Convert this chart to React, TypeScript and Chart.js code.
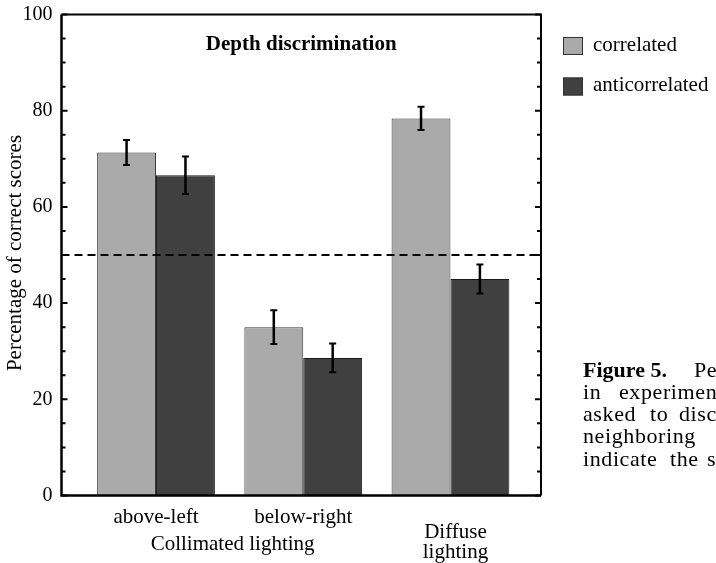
import React, { useEffect, useRef } from "react";
import { Chart, registerables } from "chart.js";

Chart.register(...registerables);

// ---- data ----
const categoryPositions = [0, 1, 2];
const tickLabels = ["above-left", "below-right"];
const groupLabels = [
  { lines: ["Collimated lighting"], from: 0, to: 1 },
  { lines: ["Diffuse", "lighting"], from: 2, to: 2 },
];
const seriesNames = ["correlated", "anticorrelated"];
const correlated = [71.3, 35.0, 78.4];
const correlatedErr = [2.6, 3.5, 2.4];
const anticorrelated = [66.6, 28.6, 45.0];
const anticorrelatedErr = [3.9, 3.0, 3.0];
const yTickValues = [0, 20, 40, 60, 80, 100];
const yMinorStep = 5;
const chanceLevel = 50;
const chartTitle = "Depth discrimination";
const yAxisTitle = "Percentage of correct scores";
const captionBold = "Figure 5.";

const FONT = "'Liberation Serif', 'Times New Roman', Times, serif";

const decorPlugin = {
  id: "decor",
  afterDatasetsDraw(chart: any) {
    const { ctx, chartArea: a, scales } = chart;
    const y = scales.y;
    ctx.save();
    // chance line
    ctx.strokeStyle = "#000";
    ctx.lineWidth = 2;
    ctx.setLineDash([8, 5]);
    const yc = y.getPixelForValue(chanceLevel);
    ctx.beginPath();
    ctx.moveTo(a.left, yc);
    ctx.lineTo(a.right, yc);
    ctx.stroke();
    ctx.setLineDash([]);
    // error bars
    chart.data.datasets.forEach((ds: any, di: number) => {
      const meta = chart.getDatasetMeta(di);
      meta.data.forEach((bar: any, i: number) => {
        const v = ds.data[i].y;
        const e = ds.errors[i];
        const top = y.getPixelForValue(v + e);
        const bot = y.getPixelForValue(v - e);
        ctx.lineWidth = 2.5;
        ctx.strokeStyle = "#000";
        ctx.beginPath();
        ctx.moveTo(bar.x, top);
        ctx.lineTo(bar.x, bot);
        ctx.stroke();
        ctx.lineWidth = 2;
        ctx.beginPath();
        ctx.moveTo(bar.x - 3.5, top);
        ctx.lineTo(bar.x + 3.5, top);
        ctx.moveTo(bar.x - 3.5, bot);
        ctx.lineTo(bar.x + 3.5, bot);
        ctx.stroke();
      });
    });
    ctx.restore();
  },
  afterDraw(chart: any) {
    const { ctx, chartArea: a, scales } = chart;
    const x = scales.x;
    const y = scales.y;
    ctx.save();
    // frame
    ctx.strokeStyle = "#000";
    ctx.lineWidth = 2;
    ctx.beginPath();
    ctx.moveTo(a.left, a.top);
    ctx.lineTo(a.right, a.top);
    ctx.lineTo(a.right, a.bottom);
    ctx.stroke();
    ctx.lineWidth = 2.5;
    ctx.beginPath();
    ctx.moveTo(a.left, a.top);
    ctx.lineTo(a.left, a.bottom);
    ctx.lineTo(a.right, a.bottom);
    ctx.stroke();
    // inward ticks left & right
    ctx.lineWidth = 2;
    for (let v = y.min; v <= y.max; v += yMinorStep) {
      const py = y.getPixelForValue(v);
      const major = yTickValues.includes(v);
      const len = major ? 6 : 4;
      ctx.beginPath();
      ctx.moveTo(a.left, py);
      ctx.lineTo(a.left + len, py);
      ctx.moveTo(a.right, py);
      ctx.lineTo(a.right - len, py);
      ctx.stroke();
    }
    ctx.fillStyle = "#000";
    // y tick labels
    ctx.font = `20px ${FONT}`;
    ctx.textAlign = "right";
    ctx.textBaseline = "middle";
    yTickValues.forEach((v) => {
      ctx.fillText(String(v), a.left - 9, y.getPixelForValue(v));
    });
    // y axis title
    ctx.save();
    ctx.translate(15, 253);
    ctx.rotate(-Math.PI / 2);
    ctx.textAlign = "center";
    ctx.textBaseline = "middle";
    ctx.font = `21px ${FONT}`;
    ctx.fillText(yAxisTitle, 0, 0);
    ctx.restore();
    // x tick labels
    ctx.font = `21px ${FONT}`;
    ctx.textAlign = "center";
    ctx.textBaseline = "alphabetic";
    tickLabels.forEach((t, i) => {
      ctx.fillText(t, x.getPixelForValue(categoryPositions[i]), a.bottom + 27);
    });
    groupLabels.forEach((g) => {
      const multi = g.lines.length > 1;
      const cx = (x.getPixelForValue(g.from) + x.getPixelForValue(g.to)) / 2 + (multi ? 5 : 3);
      const base = multi ? a.bottom + 42 : a.bottom + 54;
      g.lines.forEach((ln, li) => {
        ctx.fillText(ln, cx, base + li * 20);
      });
    });
    // title
    ctx.font = `bold 21px ${FONT}`;
    ctx.fillText(chartTitle, (a.left + a.right) / 2, 50);
    // legend
    ctx.textAlign = "left";
    ctx.textBaseline = "middle";
    ctx.font = `21px ${FONT}`;
    chart.data.datasets.forEach((ds: any, i: number) => {
      const top = 37 + i * 40.5;
      ctx.fillStyle = ds.backgroundColor;
      ctx.fillRect(563, top, 20, 18);
      ctx.strokeStyle = "#333";
      ctx.lineWidth = 1;
      ctx.strokeRect(563.5, top + 0.5, 19, 17);
      ctx.fillStyle = "#000";
      ctx.fillText(ds.label, 593, top + 8);
    });
    // caption (clipped at the right edge)
    ctx.textBaseline = "alphabetic";
    ctx.font = `bold 22px ${FONT}`;
    ctx.fillText(captionBold, 583, 377);
    ctx.font = `22px ${FONT}`;
    (ctx as any).letterSpacing = "0.6px";
    const words: [string, number, number][] = [
      ["Percentage", 694, 377],
      ["in", 583, 399],
      ["experiment", 619, 399],
      ["asked", 583, 421],
      ["to", 650, 421],
      ["discriminate", 679, 421],
      ["neighboring", 583, 443],
      ["indicate", 583, 466],
      ["the", 670, 466],
      ["standard", 707, 466],
    ];
    words.forEach(([w, px, py]) => ctx.fillText(w, px, py));
    (ctx as any).letterSpacing = "0px";
    ctx.restore();
  },
};

export default function App() {
  const ref = useRef<HTMLCanvasElement>(null);
  useEffect(() => {
    const canvas = ref.current!;
    const chart = new Chart(canvas, {
      type: "bar",
      data: {
        datasets: [
          {
            label: seriesNames[0],
            data: categoryPositions.map((p, i) => ({ x: p, y: correlated[i] })),
            backgroundColor: "#aaaaaa",
            borderColor: "#3a3a3a",
            borderWidth: 1,
            errors: correlatedErr,
          } as any,
          {
            label: seriesNames[1],
            data: categoryPositions.map((p, i) => ({ x: p, y: anticorrelated[i] })),
            backgroundColor: "#404040",
            borderColor: "#1a1a1a",
            borderWidth: 1,
            errors: anticorrelatedErr,
          } as any,
        ],
      },
      options: {
        animation: false,
        responsive: false,
        layout: { padding: { left: 61.5, right: 175, top: 14.5, bottom: 67.5 } },
        datasets: { bar: { categoryPercentage: 0.8, barPercentage: 1.0 } },
        plugins: { legend: { display: false }, tooltip: { enabled: false }, title: { display: false } },
        scales: {
          x: {
            type: "linear",
            min: -0.642,
            max: 2.615,
            offset: false,
            display: false,
            afterBuildTicks: (scale: any) => {
              scale.ticks = categoryPositions.map((v) => ({ value: v }));
            },
          },
          y: { min: 0, max: 100, display: false },
        },
      } as any,
      plugins: [decorPlugin],
    });
    return () => chart.destroy();
  }, []);
  return (
    <div style={{ position: "fixed", left: 0, top: 0, width: 716, height: 563, background: "#fff" }}>
      <canvas ref={ref} width={716} height={563} style={{ display: "block", width: 716, height: 563 }} />
    </div>
  );
}
